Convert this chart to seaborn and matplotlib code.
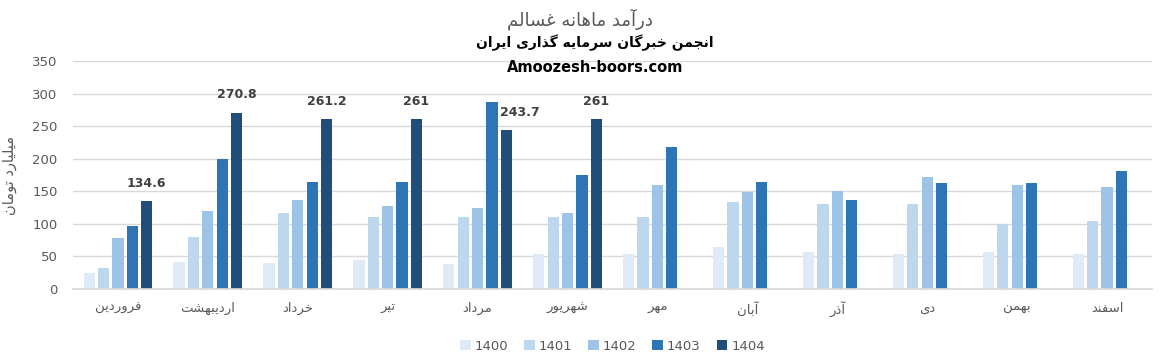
import numpy as np
import pandas as pd
import matplotlib
matplotlib.use("Agg")
import matplotlib.pyplot as plt
import seaborn as sns

# ---------------- data ----------------
months = ["فروردین", "اردیبهشت", "خرداد", "تیر", "مرداد", "شهریور",
          "مهر", "آبان", "آذر", "دی", "بهمن", "اسفند"]
years = ["1400", "1401", "1402", "1403", "1404"]
v1400 = [25, 42, 40, 45, 38, 54, 53, 65, 57, 54, 57, 53]
v1401 = [33, 80, 117, 111, 111, 111, 111, 134, 131, 131, 100, 105]
v1402 = [79, 119, 136, 127, 125, 116, 160, 149, 151, 172, 160, 157]
v1403 = [96, 200, 165, 165, 287, 175, 218, 165, 136, 162, 162, 181]
v1404 = [134.6, 270.8, 261.2, 261, 243.7, 261, np.nan, np.nan, np.nan, np.nan, np.nan, np.nan]
value_labels = ["134.6", "270.8", "261.2", "261", "243.7", "261"]

title = "درآمد ماهانه غسالم"
subtitle = "انجمن خبرگان سرمایه گذاری ایران"
site = "Amoozesh-boors.com"
ylabel = "میلیارد تومان"
colors = ["#DEEBF7", "#BDD7EE", "#9DC3E6", "#2E75B6", "#1F4E79"]

# ---------------- minimal Persian shaping ----------------
FORMS = {  # isolated, final, initial, medial
    "ا": ("\uFE8D", "\uFE8E", None, None),
    "آ": ("\uFE81", "\uFE82", None, None),
    "ب": ("\uFE8F", "\uFE90", "\uFE91", "\uFE92"),
    "ت": ("\uFE95", "\uFE96", "\uFE97", "\uFE98"),
    "ج": ("\uFE9D", "\uFE9E", "\uFE9F", "\uFEA0"),
    "خ": ("\uFEA5", "\uFEA6", "\uFEA7", "\uFEA8"),
    "د": ("\uFEA9", "\uFEAA", None, None),
    "ذ": ("\uFEAB", "\uFEAC", None, None),
    "ر": ("\uFEAD", "\uFEAE", None, None),
    "ز": ("\uFEAF", "\uFEB0", None, None),
    "س": ("\uFEB1", "\uFEB2", "\uFEB3", "\uFEB4"),
    "ش": ("\uFEB5", "\uFEB6", "\uFEB7", "\uFEB8"),
    "غ": ("\uFECD", "\uFECE", "\uFECF", "\uFED0"),
    "ف": ("\uFED1", "\uFED2", "\uFED3", "\uFED4"),
    "ل": ("\uFEDD", "\uFEDE", "\uFEDF", "\uFEE0"),
    "م": ("\uFEE1", "\uFEE2", "\uFEE3", "\uFEE4"),
    "ن": ("\uFEE5", "\uFEE6", "\uFEE7", "\uFEE8"),
    "ه": ("\uFEE9", "\uFEEA", "\uFEEB", "\uFEEC"),
    "و": ("\uFEED", "\uFEEE", None, None),
    "ی": ("\uFBFC", "\uFBFD", "\uFBFE", "\uFBFF"),
    "گ": ("\uFB92", "\uFB93", "\uFB94", "\uFB95"),
}


def dual(c):
    return c in FORMS and FORMS[c][2] is not None


def shape(text):
    out = []
    n = len(text)
    for i, c in enumerate(text):
        if c not in FORMS:
            out.append(c)
            continue
        prev = text[i - 1] if i > 0 else ""
        nxt = text[i + 1] if i < n - 1 else ""
        cp = dual(prev)
        cn = dual(c) and nxt in FORMS
        iso, fin, ini, med = FORMS[c]
        if cp and cn:
            out.append(med)
        elif cp:
            out.append(fin)
        elif cn:
            out.append(ini)
        else:
            out.append(iso)
    return "".join(out)[::-1]


# ---------------- figure ----------------
sns.set_theme(style="white")
plt.rcParams["font.family"] = ["DejaVu Sans"]

df = pd.DataFrame({
    "month": np.repeat(months, len(years)),
    "year": years * len(months),
    "value": np.array([v1400, v1401, v1402, v1403, v1404]).T.ravel(),
})
df["month"] = [shape(m) for m in df["month"]]
order = [shape(m) for m in months]

fig = plt.figure(figsize=(11.62, 3.62), dpi=100)
ax = fig.add_axes([73 / 1162, 1 - 289 / 362, (1152 - 73) / 1162, (289 - 61) / 362])

sns.barplot(data=df, x="month", y="value", hue="year", order=order,
            hue_order=years, palette=dict(zip(years, colors)),
            width=0.8, gap=0.22, saturation=1, ax=ax, errorbar=None,
            linewidth=0, edgecolor="none")

ax.set_ylim(0, 350)
ax.set_xlim(-0.5, len(months) - 0.5)
ax.set_yticks(range(0, 351, 50))
ax.yaxis.grid(True, color="#D9D9D9", linewidth=1)
ax.set_axisbelow(True)
for s in ["top", "right", "left"]:
    ax.spines[s].set_visible(False)
ax.spines["bottom"].set_color("#D9D9D9")
ax.tick_params(axis="both", length=0, colors="#595959", labelsize=9.5)
ax.tick_params(axis="x", pad=9)
ax.tick_params(axis="y", pad=11)
ax.set_xlabel("")
ax.set_ylabel(shape(ylabel), color="#595959", fontsize=10.5)
ax.yaxis.set_label_coords(-0.052, 0.5)

# data labels on 1404 bars
bars1404 = ax.containers[-1]
xoff = {4: 13.5}
for i, (bar, lab) in enumerate(zip(bars1404, value_labels)):
    x = bar.get_x() + bar.get_width() / 2
    h = bar.get_height()
    ax.annotate(lab, (x, h), xytext=(xoff.get(i, 0) * 0.72, 8), textcoords="offset points",
                ha="center", va="bottom", fontsize=9, fontweight="bold", color="#404040")

leg = ax.legend(loc="upper center", bbox_to_anchor=(0.5, -0.17), ncol=5, frameon=False,
                fontsize=9.5, handlelength=0.8, handleheight=0.8, handletextpad=0.3,
                columnspacing=1.2)
for t in leg.get_texts():
    t.set_color("#595959")

fig.text(580 / 1162, 1 - 19 / 362, shape(title), ha="center", va="center",
         fontsize=13, color="#595959")
fig.text(595 / 1162, 1 - 43 / 362, shape(subtitle), ha="center", va="center",
         fontsize=10, fontweight="bold", color="black")
fig.text(595 / 1162, 1 - 67 / 362, site, ha="center", va="center",
         fontsize=10.5, fontweight="bold", color="black")

fig.savefig("out.png", dpi=100)
